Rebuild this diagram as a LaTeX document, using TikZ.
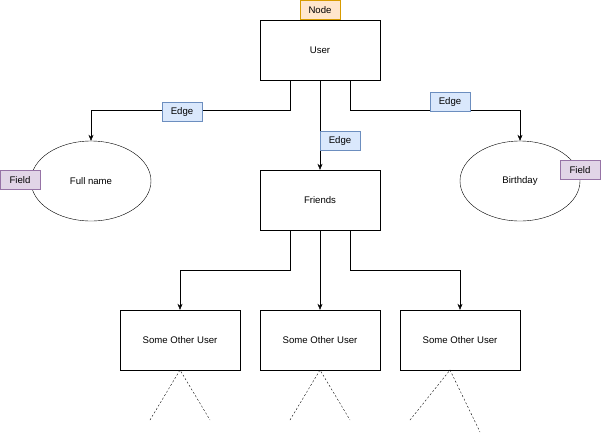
\documentclass[tikz,border=0pt]{standalone}
\usepackage{fontspec}
\setmainfont{Liberation Sans}
\usetikzlibrary{arrows.meta,shapes.geometric}
\definecolor{nfill}{HTML}{FFE6CC}\definecolor{ndraw}{HTML}{D79B00}
\definecolor{ffill}{HTML}{E1D5E7}\definecolor{fdraw}{HTML}{9673A6}
\definecolor{efill}{HTML}{DAE8FC}\definecolor{edraw}{HTML}{6C8EBF}
\begin{document}
\begin{tikzpicture}[x=1pt,y=-1pt,font=\fontsize{9.6}{11}\selectfont,
 box/.style={draw,fill=white,minimum width=120pt,minimum height=60pt,inner sep=0},
 ell/.style={draw,fill=white,ellipse,minimum width=120pt,minimum height=80pt,inner sep=0},
 tag/.style={draw,minimum width=40pt,minimum height=19pt,inner sep=0},
 nodetag/.style={tag,fill=nfill,draw=ndraw},
 fieldtag/.style={tag,fill=ffill,draw=fdraw},
 edgetag/.style={tag,fill=efill,draw=edraw},
 arr/.style={-{Stealth[length=6pt,width=5pt]}},
 dsh/.style={dash pattern=on 2pt off 2pt}]
\useasboundingbox (0,0) rectangle (601,432);
\node[box] (user) at (320,50) {User};
\node[nodetag] (nt) at (320,10) {Node};
\node[ell] (full) at (91,181) {Full name};
\node[ell] (birth) at (520,181) {Birthday};
\node[fieldtag] (f1) at (20,180) {Field};
\node[fieldtag] (f2) at (580,170) {Field};
\node[box] (friends) at (320,200) {Friends};
\node[box] (s1) at (180,340) {Some Other User};
\node[box] (s2) at (320,340) {Some Other User};
\node[box] (s3) at (460,340) {Some Other User};
\draw[arr] (user.south)+(-30,0) |- (91,110) -- (full.north);
\draw[arr] (user.south) -- (friends.north);
\draw[arr] (user.south)+(30,0) |- (520,110) -- (birth.north);
\node[edgetag] (e1) at (182,112) {Edge};
\node[edgetag] (e2) at (340,141) {Edge};
\node[edgetag] (e3) at (450,102) {Edge};
\draw[arr] (friends.south)+(-30,0) |- (180,270) -- (s1.north);
\draw[arr] (friends.south) -- (s2.north);
\draw[arr] (friends.south)+(30,0) |- (460,270) -- (s3.north);
\coordinate (a1) at (150,420); \coordinate (b1) at (210,420);
\coordinate (a2) at (290,420); \coordinate (b2) at (350,420);
\coordinate (a3) at (410,420); \coordinate (b3) at (480,432);
\draw[dsh] (a1) -- (180,370) -- (b1);
\draw[dsh] (a2) -- (320,370) -- (b2);
\draw[dsh] (a3) -- (450,370) -- (b3);
\end{tikzpicture}
\end{document}
